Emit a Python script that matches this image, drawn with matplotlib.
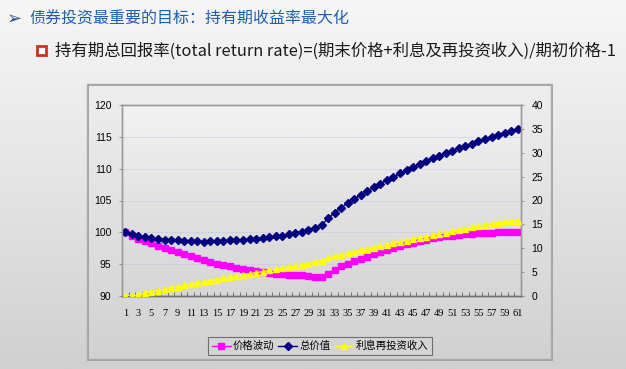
import numpy as np
import matplotlib.pyplot as plt
from matplotlib.patches import Rectangle
from matplotlib.lines import Line2D

W, H = 626, 369

periods = list(range(1, 62))
x_labels = [str(p) if p % 2 == 1 else '' for p in periods]

# 价格波动 (left axis)
price = [100.0, 99.5, 99.0, 98.6, 98.25, 97.9, 97.5, 97.15, 96.85, 96.55,
         96.25, 96.0, 95.7, 95.4, 95.1, 94.9, 94.7, 94.45, 94.25, 94.05,
         93.85, 93.7, 93.58, 93.48, 93.4, 93.33, 93.28, 93.22, 93.13, 93.03,
         93.0, 93.5, 94.15, 94.65, 95.05, 95.45, 95.85, 96.2, 96.6, 96.95,
         97.3, 97.6, 97.9, 98.15, 98.4, 98.6, 98.85, 99.05, 99.2, 99.35,
         99.5, 99.62, 99.72, 99.8, 99.88, 99.93, 99.96, 99.98, 100.0, 100.0,
         100.0]

# 总价值 (left axis)
total = [100.0, 99.7, 99.5, 99.25, 99.1, 98.95, 98.85, 98.8, 98.75, 98.7,
         98.7, 98.62, 98.5, 98.6, 98.62, 98.68, 98.72, 98.77, 98.83, 98.9,
         99.0, 99.1, 99.2, 99.35, 99.5, 99.72, 99.9, 100.12, 100.42, 100.72,
         101.1, 102.2, 103.1, 103.9, 104.6, 105.25, 105.9, 106.45, 107.1, 107.65,
         108.2, 108.7, 109.25, 109.75, 110.25, 110.7, 111.15, 111.6, 112.0, 112.4,
         112.8, 113.2, 113.6, 113.95, 114.3, 114.7, 115.05, 115.35, 115.65, 115.9,
         116.2]

# 利息再投资收入 (right axis)
income = [0.0, 0.05, 0.25, 0.6, 0.9, 1.15, 1.4, 1.7, 1.95, 2.2,
          2.5, 2.7, 2.95, 3.2, 3.45, 3.7, 3.95, 4.15, 4.4, 4.65,
          4.9, 5.1, 5.35, 5.6, 5.85, 6.05, 6.3, 6.55, 6.8, 7.05,
          7.4, 7.95, 8.3, 8.6, 9.0, 9.3, 9.55, 9.8, 10.15, 10.45,
          10.7, 11.0, 11.3, 11.6, 11.85, 12.15, 12.4, 12.7, 13.0, 13.25,
          13.55, 13.8, 14.1, 14.4, 14.7, 14.9, 15.1, 15.3, 15.5, 15.65,
          15.8]

series_names = ['价格波动', '总价值', '利息再投资收入']

plt.rcParams['font.family'] = ['Noto Sans CJK SC', 'DejaVu Sans']

fig = plt.figure(figsize=(W / 100, H / 100), dpi=100)

# slide background gradient
bg = fig.add_axes([0, 0, 1, 1], zorder=-10)
grad = np.linspace(0, 1, 256).reshape(-1, 1)
bg.imshow(grad, cmap=plt.matplotlib.colors.LinearSegmentedColormap.from_list(
    'bg', ['#f6f6f6', '#e4e4e4', '#d0d0d0']), aspect='auto',
    extent=[0, 1, 0, 1], origin='upper')
bg.set_xlim(0, 1)
bg.set_ylim(0, 1)
bg.axis('off')


def fx(px):
    return px / W


def fy(py):
    return 1 - py / H


# header text
fig.text(fx(7), fy(19), '➢', fontsize=13, color='#2b4f8e', va='center', ha='left',
         family=['DejaVu Sans'])
fig.text(fx(29), fy(19), '债券投资最重要的目标：持有期收益率最大化', fontsize=11.5,
         color='#1f5fae', va='center', ha='left', fontweight='medium')
fig.patches.append(Rectangle((fx(37), fy(55)), 9 / W, 9 / H, transform=fig.transFigure,
                             facecolor='white', edgecolor='#c0391b', lw=2, figure=fig))
fig.text(fx(55), fy(51), '持有期总回报率(total return rate)=(期末价格+利息及再投资收入)/期初价格-1',
         fontsize=11.8, color='#1a1a1a', va='center', ha='left', fontweight='medium')

# chart frame with shadow
fig.patches.append(Rectangle((fx(88), fy(360)), (551 - 87) / W, (359 - 84) / H,
                             transform=fig.transFigure, facecolor='none',
                             edgecolor='#9a9a9a', lw=1.2, figure=fig, zorder=1))
fig.patches.append(Rectangle((fx(87), fy(359)), (551 - 87) / W, (359 - 84) / H,
                             transform=fig.transFigure, facecolor='none',
                             edgecolor='#aaaaaa', lw=1, figure=fig, zorder=2))

ax = fig.add_axes([fx(122), fy(296), 399 / W, 191 / H])
ax.set_facecolor('none')
ax.imshow(grad, cmap=plt.matplotlib.colors.LinearSegmentedColormap.from_list(
    'pa', ['#f3f3f3', '#e2e2e2', '#d6d6d6']), aspect='auto',
    extent=[0.5, 61.5, 90, 120], origin='upper', zorder=0)
ax.set_xlim(0.5, 61.5)
ax.set_ylim(90, 120)
ax.set_yticks(range(90, 121, 5))
for gy in range(95, 120, 5):
    ax.axhline(gy, color='#c4c6e2', lw=0.7, ls=(0, (1, 1)), zorder=1)

ax.plot(periods, price, color='#ff00ff', marker='s', markersize=4.2, lw=1, zorder=3)
ax.plot(periods, total, color='#000080', marker='D', markersize=4.0, lw=1, zorder=4)

ax2 = ax.twinx()
ax2.set_ylim(0, 40)
ax2.set_yticks(range(0, 41, 5))
ax2.plot(periods, income, color='#ffff00', marker='^', markersize=5.0, lw=1, zorder=3)

ax.set_xticks(periods)
ax.set_xticklabels(x_labels, fontsize=7.5, family='Liberation Serif')
ax.tick_params(axis='x', length=0, pad=9)
ax.set_xticks(np.arange(0.5, 62, 1), minor=True)
ax.tick_params(axis='x', which='minor', direction='in', length=3, color='#606060', width=0.6)

for a in (ax, ax2):
    for s in a.spines.values():
        s.set_color('#9a9a9a')
        s.set_linewidth(1)
    a.spines['bottom'].set_color('#707070')
ax.tick_params(axis='y', length=2.5, width=0.6, color='#808080', labelsize=7.5, pad=5)
ax2.tick_params(axis='y', length=2.5, width=0.6, color='#808080', labelsize=7.5, pad=5)
for lab in ax.get_yticklabels() + ax2.get_yticklabels():
    lab.set_family('Liberation Sans')

handles = [
    Line2D([], [], color='#ff00ff', marker='s', markersize=4.2, lw=1),
    Line2D([], [], color='#000080', marker='D', markersize=4.0, lw=1),
    Line2D([], [], color='#ffff00', marker='^', markersize=5.0, lw=1),
]
leg = fig.legend(handles, series_names, loc='center', ncol=3,
                 bbox_to_anchor=(fx(320), fy(346)), fontsize=7.5, frameon=True,
                 fancybox=False, handlelength=1.8, handletextpad=0.2,
                 columnspacing=0.4, borderpad=0.35)
leg.get_frame().set_edgecolor('#555555')
leg.get_frame().set_facecolor('#d6d6d6')
leg.get_frame().set_linewidth(0.8)

fig.savefig('out.png', dpi=100)
